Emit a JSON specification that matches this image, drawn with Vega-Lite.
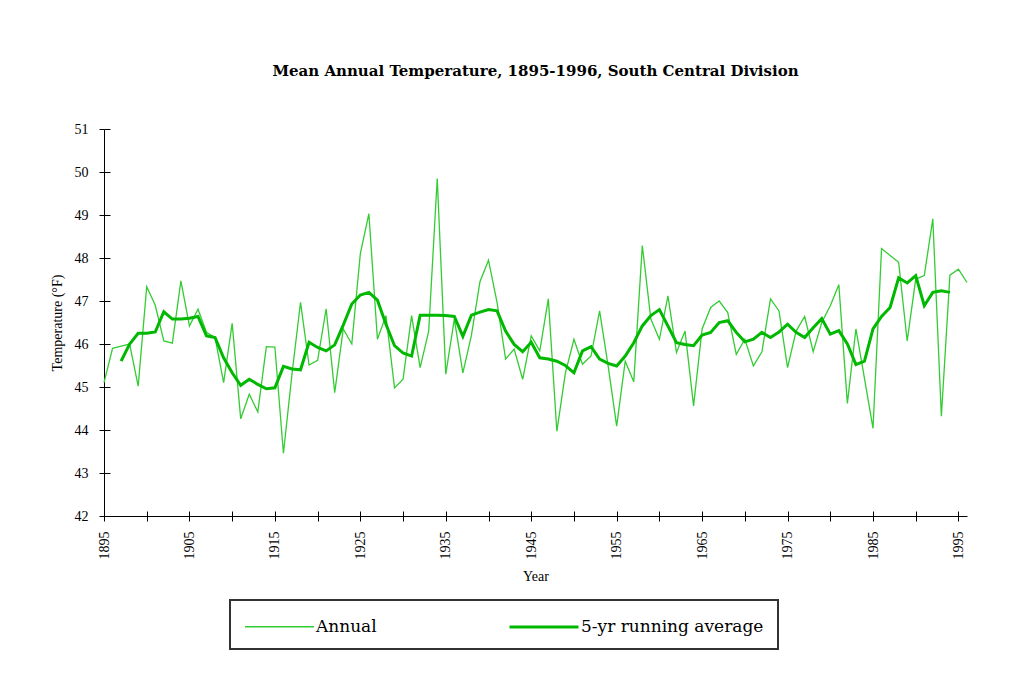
{
  "$schema": "https://vega.github.io/schema/vega-lite/v6.json",
  "width": 863,
  "height": 387,
  "autosize": {"type": "none"},
  "padding": {"left": 104, "top": 129, "right": 48, "bottom": 161},
  "background": "white",
  "title": {
    "text": "Mean Annual Temperature, 1895-1996, South Central Division",
    "font": "DejaVu Serif",
    "fontSize": 15,
    "fontWeight": "bold",
    "color": "black",
    "anchor": "middle",
    "offset": 43
  },
  "datasets": {
    "annual": [
      {"year": 1895, "series": "Annual", "temp": 45.1},
      {"year": 1896, "series": "Annual", "temp": 45.9},
      {"year": 1897, "series": "Annual", "temp": 45.95},
      {"year": 1898, "series": "Annual", "temp": 46.0},
      {"year": 1899, "series": "Annual", "temp": 45.02},
      {"year": 1900, "series": "Annual", "temp": 47.33},
      {"year": 1901, "series": "Annual", "temp": 46.9},
      {"year": 1902, "series": "Annual", "temp": 46.07},
      {"year": 1903, "series": "Annual", "temp": 46.02},
      {"year": 1904, "series": "Annual", "temp": 47.47},
      {"year": 1905, "series": "Annual", "temp": 46.42},
      {"year": 1906, "series": "Annual", "temp": 46.81},
      {"year": 1907, "series": "Annual", "temp": 46.27},
      {"year": 1908, "series": "Annual", "temp": 46.15},
      {"year": 1909, "series": "Annual", "temp": 45.1},
      {"year": 1910, "series": "Annual", "temp": 46.48},
      {"year": 1911, "series": "Annual", "temp": 44.26},
      {"year": 1912, "series": "Annual", "temp": 44.83},
      {"year": 1913, "series": "Annual", "temp": 44.42},
      {"year": 1914, "series": "Annual", "temp": 45.94},
      {"year": 1915, "series": "Annual", "temp": 45.93},
      {"year": 1916, "series": "Annual", "temp": 43.46},
      {"year": 1917, "series": "Annual", "temp": 45.3},
      {"year": 1918, "series": "Annual", "temp": 46.97},
      {"year": 1919, "series": "Annual", "temp": 45.51},
      {"year": 1920, "series": "Annual", "temp": 45.62},
      {"year": 1921, "series": "Annual", "temp": 46.82},
      {"year": 1922, "series": "Annual", "temp": 44.87},
      {"year": 1923, "series": "Annual", "temp": 46.35},
      {"year": 1924, "series": "Annual", "temp": 46.0},
      {"year": 1925, "series": "Annual", "temp": 48.1},
      {"year": 1926, "series": "Annual", "temp": 49.03},
      {"year": 1927, "series": "Annual", "temp": 46.11},
      {"year": 1928, "series": "Annual", "temp": 46.66},
      {"year": 1929, "series": "Annual", "temp": 44.98},
      {"year": 1930, "series": "Annual", "temp": 45.18},
      {"year": 1931, "series": "Annual", "temp": 46.66},
      {"year": 1932, "series": "Annual", "temp": 45.45},
      {"year": 1933, "series": "Annual", "temp": 46.3},
      {"year": 1934, "series": "Annual", "temp": 49.85},
      {"year": 1935, "series": "Annual", "temp": 45.3},
      {"year": 1936, "series": "Annual", "temp": 46.58},
      {"year": 1937, "series": "Annual", "temp": 45.33},
      {"year": 1938, "series": "Annual", "temp": 46.2},
      {"year": 1939, "series": "Annual", "temp": 47.45},
      {"year": 1940, "series": "Annual", "temp": 47.95},
      {"year": 1941, "series": "Annual", "temp": 46.97},
      {"year": 1942, "series": "Annual", "temp": 45.65},
      {"year": 1943, "series": "Annual", "temp": 45.88},
      {"year": 1944, "series": "Annual", "temp": 45.18},
      {"year": 1945, "series": "Annual", "temp": 46.19},
      {"year": 1946, "series": "Annual", "temp": 45.84},
      {"year": 1947, "series": "Annual", "temp": 47.05},
      {"year": 1948, "series": "Annual", "temp": 43.97},
      {"year": 1949, "series": "Annual", "temp": 45.33},
      {"year": 1950, "series": "Annual", "temp": 46.11},
      {"year": 1951, "series": "Annual", "temp": 45.53},
      {"year": 1952, "series": "Annual", "temp": 45.72},
      {"year": 1953, "series": "Annual", "temp": 46.77},
      {"year": 1954, "series": "Annual", "temp": 45.49},
      {"year": 1955, "series": "Annual", "temp": 44.09},
      {"year": 1956, "series": "Annual", "temp": 45.6},
      {"year": 1957, "series": "Annual", "temp": 45.12},
      {"year": 1958, "series": "Annual", "temp": 48.29},
      {"year": 1959, "series": "Annual", "temp": 46.58},
      {"year": 1960, "series": "Annual", "temp": 46.11},
      {"year": 1961, "series": "Annual", "temp": 47.12},
      {"year": 1962, "series": "Annual", "temp": 45.8},
      {"year": 1963, "series": "Annual", "temp": 46.3},
      {"year": 1964, "series": "Annual", "temp": 44.56},
      {"year": 1965, "series": "Annual", "temp": 46.35},
      {"year": 1966, "series": "Annual", "temp": 46.85},
      {"year": 1967, "series": "Annual", "temp": 47.0},
      {"year": 1968, "series": "Annual", "temp": 46.73},
      {"year": 1969, "series": "Annual", "temp": 45.76},
      {"year": 1970, "series": "Annual", "temp": 46.11},
      {"year": 1971, "series": "Annual", "temp": 45.49},
      {"year": 1972, "series": "Annual", "temp": 45.82},
      {"year": 1973, "series": "Annual", "temp": 47.05},
      {"year": 1974, "series": "Annual", "temp": 46.77},
      {"year": 1975, "series": "Annual", "temp": 45.45},
      {"year": 1976, "series": "Annual", "temp": 46.3},
      {"year": 1977, "series": "Annual", "temp": 46.64},
      {"year": 1978, "series": "Annual", "temp": 45.82},
      {"year": 1979, "series": "Annual", "temp": 46.5},
      {"year": 1980, "series": "Annual", "temp": 46.89},
      {"year": 1981, "series": "Annual", "temp": 47.38},
      {"year": 1982, "series": "Annual", "temp": 44.62},
      {"year": 1983, "series": "Annual", "temp": 46.35},
      {"year": 1984, "series": "Annual", "temp": 45.2},
      {"year": 1985, "series": "Annual", "temp": 44.04},
      {"year": 1986, "series": "Annual", "temp": 48.22},
      {"year": 1987, "series": "Annual", "temp": 48.06},
      {"year": 1988, "series": "Annual", "temp": 47.9},
      {"year": 1989, "series": "Annual", "temp": 46.07},
      {"year": 1990, "series": "Annual", "temp": 47.51},
      {"year": 1991, "series": "Annual", "temp": 47.59},
      {"year": 1992, "series": "Annual", "temp": 48.91},
      {"year": 1993, "series": "Annual", "temp": 44.32},
      {"year": 1994, "series": "Annual", "temp": 47.6},
      {"year": 1995, "series": "Annual", "temp": 47.74},
      {"year": 1996, "series": "Annual", "temp": 47.43}
    ],
    "avg": [
      {"year": 1897, "series": "5-yr running average", "temp": 45.6},
      {"year": 1898, "series": "5-yr running average", "temp": 46.0},
      {"year": 1899, "series": "5-yr running average", "temp": 46.25},
      {"year": 1900, "series": "5-yr running average", "temp": 46.25},
      {"year": 1901, "series": "5-yr running average", "temp": 46.28},
      {"year": 1902, "series": "5-yr running average", "temp": 46.75},
      {"year": 1903, "series": "5-yr running average", "temp": 46.58},
      {"year": 1904, "series": "5-yr running average", "temp": 46.58},
      {"year": 1905, "series": "5-yr running average", "temp": 46.6},
      {"year": 1906, "series": "5-yr running average", "temp": 46.64},
      {"year": 1907, "series": "5-yr running average", "temp": 46.19},
      {"year": 1908, "series": "5-yr running average", "temp": 46.15},
      {"year": 1909, "series": "5-yr running average", "temp": 45.68},
      {"year": 1910, "series": "5-yr running average", "temp": 45.33},
      {"year": 1911, "series": "5-yr running average", "temp": 45.04},
      {"year": 1912, "series": "5-yr running average", "temp": 45.18},
      {"year": 1913, "series": "5-yr running average", "temp": 45.06},
      {"year": 1914, "series": "5-yr running average", "temp": 44.96},
      {"year": 1915, "series": "5-yr running average", "temp": 44.98},
      {"year": 1916, "series": "5-yr running average", "temp": 45.48},
      {"year": 1917, "series": "5-yr running average", "temp": 45.42},
      {"year": 1918, "series": "5-yr running average", "temp": 45.4},
      {"year": 1919, "series": "5-yr running average", "temp": 46.04},
      {"year": 1920, "series": "5-yr running average", "temp": 45.92},
      {"year": 1921, "series": "5-yr running average", "temp": 45.84},
      {"year": 1922, "series": "5-yr running average", "temp": 45.98},
      {"year": 1923, "series": "5-yr running average", "temp": 46.44},
      {"year": 1924, "series": "5-yr running average", "temp": 46.93},
      {"year": 1925, "series": "5-yr running average", "temp": 47.14},
      {"year": 1926, "series": "5-yr running average", "temp": 47.2},
      {"year": 1927, "series": "5-yr running average", "temp": 47.02},
      {"year": 1928, "series": "5-yr running average", "temp": 46.46},
      {"year": 1929, "series": "5-yr running average", "temp": 45.96},
      {"year": 1930, "series": "5-yr running average", "temp": 45.79},
      {"year": 1931, "series": "5-yr running average", "temp": 45.72},
      {"year": 1932, "series": "5-yr running average", "temp": 46.67},
      {"year": 1933, "series": "5-yr running average", "temp": 46.67},
      {"year": 1934, "series": "5-yr running average", "temp": 46.67},
      {"year": 1935, "series": "5-yr running average", "temp": 46.66},
      {"year": 1936, "series": "5-yr running average", "temp": 46.64},
      {"year": 1937, "series": "5-yr running average", "temp": 46.18},
      {"year": 1938, "series": "5-yr running average", "temp": 46.67},
      {"year": 1939, "series": "5-yr running average", "temp": 46.74},
      {"year": 1940, "series": "5-yr running average", "temp": 46.8},
      {"year": 1941, "series": "5-yr running average", "temp": 46.77},
      {"year": 1942, "series": "5-yr running average", "temp": 46.3},
      {"year": 1943, "series": "5-yr running average", "temp": 45.99},
      {"year": 1944, "series": "5-yr running average", "temp": 45.82},
      {"year": 1945, "series": "5-yr running average", "temp": 46.04},
      {"year": 1946, "series": "5-yr running average", "temp": 45.68},
      {"year": 1947, "series": "5-yr running average", "temp": 45.65},
      {"year": 1948, "series": "5-yr running average", "temp": 45.6},
      {"year": 1949, "series": "5-yr running average", "temp": 45.5},
      {"year": 1950, "series": "5-yr running average", "temp": 45.33},
      {"year": 1951, "series": "5-yr running average", "temp": 45.84},
      {"year": 1952, "series": "5-yr running average", "temp": 45.94},
      {"year": 1953, "series": "5-yr running average", "temp": 45.65},
      {"year": 1954, "series": "5-yr running average", "temp": 45.55},
      {"year": 1955, "series": "5-yr running average", "temp": 45.49},
      {"year": 1956, "series": "5-yr running average", "temp": 45.72},
      {"year": 1957, "series": "5-yr running average", "temp": 46.03},
      {"year": 1958, "series": "5-yr running average", "temp": 46.42},
      {"year": 1959, "series": "5-yr running average", "temp": 46.66},
      {"year": 1960, "series": "5-yr running average", "temp": 46.8},
      {"year": 1961, "series": "5-yr running average", "temp": 46.42},
      {"year": 1962, "series": "5-yr running average", "temp": 46.03},
      {"year": 1963, "series": "5-yr running average", "temp": 45.99},
      {"year": 1964, "series": "5-yr running average", "temp": 45.96},
      {"year": 1965, "series": "5-yr running average", "temp": 46.21},
      {"year": 1966, "series": "5-yr running average", "temp": 46.27},
      {"year": 1967, "series": "5-yr running average", "temp": 46.5},
      {"year": 1968, "series": "5-yr running average", "temp": 46.54},
      {"year": 1969, "series": "5-yr running average", "temp": 46.27},
      {"year": 1970, "series": "5-yr running average", "temp": 46.05},
      {"year": 1971, "series": "5-yr running average", "temp": 46.11},
      {"year": 1972, "series": "5-yr running average", "temp": 46.27},
      {"year": 1973, "series": "5-yr running average", "temp": 46.15},
      {"year": 1974, "series": "5-yr running average", "temp": 46.28},
      {"year": 1975, "series": "5-yr running average", "temp": 46.46},
      {"year": 1976, "series": "5-yr running average", "temp": 46.27},
      {"year": 1977, "series": "5-yr running average", "temp": 46.15},
      {"year": 1978, "series": "5-yr running average", "temp": 46.38},
      {"year": 1979, "series": "5-yr running average", "temp": 46.59},
      {"year": 1980, "series": "5-yr running average", "temp": 46.23},
      {"year": 1981, "series": "5-yr running average", "temp": 46.31},
      {"year": 1982, "series": "5-yr running average", "temp": 46.0},
      {"year": 1983, "series": "5-yr running average", "temp": 45.52},
      {"year": 1984, "series": "5-yr running average", "temp": 45.6},
      {"year": 1985, "series": "5-yr running average", "temp": 46.35},
      {"year": 1986, "series": "5-yr running average", "temp": 46.64},
      {"year": 1987, "series": "5-yr running average", "temp": 46.85},
      {"year": 1988, "series": "5-yr running average", "temp": 47.54},
      {"year": 1989, "series": "5-yr running average", "temp": 47.42},
      {"year": 1990, "series": "5-yr running average", "temp": 47.59},
      {"year": 1991, "series": "5-yr running average", "temp": 46.89},
      {"year": 1992, "series": "5-yr running average", "temp": 47.2},
      {"year": 1993, "series": "5-yr running average", "temp": 47.24},
      {"year": 1994, "series": "5-yr running average", "temp": 47.2}
    ]
  },
  "layer": [
    {
      "data": {"name": "annual"},
      "mark": {"type": "line", "interpolate": "linear"},
      "encoding": {
        "x": {
          "field": "year",
          "type": "quantitative",
          "scale": {"domain": [1895, 1996], "nice": false, "zero": false},
          "axis": {
            "orient": "bottom",
            "values": [1895, 1900, 1905, 1910, 1915, 1920, 1925, 1930, 1935, 1940, 1945, 1950, 1955, 1960, 1965, 1970, 1975, 1980, 1985, 1990, 1995],
            "format": "d",
            "labelExpr": "(datum.value - 1895) % 10 == 0 ? datum.label : ''",
            "labelAngle": -90,
            "tickSize": 5,
            "labelPadding": 10,
            "title": "Year",
            "titlePadding": 10
          }
        },
        "y": {
          "field": "temp",
          "type": "quantitative",
          "scale": {"domain": [42, 51], "nice": false, "zero": false},
          "axis": {
            "orient": "left",
            "values": [42, 43, 44, 45, 46, 47, 48, 49, 50, 51],
            "tickSize": 5,
            "labelPadding": 11,
            "title": "Temperature (°F)",
            "titlePadding": 10
          }
        },
        "color": {
          "field": "series",
          "type": "nominal",
          "scale": {"domain": ["Annual", "5-yr running average"], "range": ["#33cc33", "#00b800"]},
          "legend": {"title": null}
        },
        "strokeWidth": {
          "field": "series",
          "type": "nominal",
          "scale": {"domain": ["Annual", "5-yr running average"], "range": [1.3, 3]},
          "legend": {"title": null}
        }
      }
    },
    {
      "data": {"name": "avg"},
      "mark": {"type": "line", "interpolate": "linear"},
      "encoding": {
        "x": {
          "field": "year",
          "type": "quantitative",
          "axis": {
            "orient": "bottom",
            "values": [1895, 1900, 1905, 1910, 1915, 1920, 1925, 1930, 1935, 1940, 1945, 1950, 1955, 1960, 1965, 1970, 1975, 1980, 1985, 1990, 1995],
            "domain": false,
            "labels": false,
            "tickSize": -5,
            "title": null
          }
        },
        "y": {
          "field": "temp",
          "type": "quantitative",
          "axis": {
            "orient": "left",
            "values": [42, 43, 44, 45, 46, 47, 48, 49, 50, 51],
            "domain": false,
            "labels": false,
            "tickSize": -6,
            "title": null
          }
        },
        "color": {"field": "series", "type": "nominal", "legend": {"title": null}},
        "strokeWidth": {"field": "series", "type": "nominal", "legend": {"title": null}}
      }
    }
  ],
  "resolve": {"axis": {"x": "independent", "y": "independent"}},
  "config": {
    "view": {"stroke": null},
    "axis": {
      "grid": false,
      "domainColor": "#000000",
      "domainWidth": 1,
      "tickColor": "#000000",
      "tickWidth": 1,
      "labelColor": "#000000",
      "titleColor": "#000000",
      "labelFont": "Liberation Serif",
      "titleFont": "Liberation Serif",
      "labelFontSize": 14,
      "titleFontSize": 14,
      "titleFontWeight": "normal"
    },
    "legend": {
      "orient": "none",
      "legendX": 126,
      "legendY": 471,
      "direction": "horizontal",
      "columnPadding": 126,
      "padding": 14,
      "fillColor": "white",
      "strokeColor": "#333333",
      "strokeWidth": 2,
      "symbolType": "M-1,0H5",
      "symbolSize": 529,
      "labelFont": "DejaVu Serif",
      "labelFontSize": 17,
      "labelColor": "#000000",
      "labelOffset": 47,
      "labelLimit": 400
    }
  }
}
